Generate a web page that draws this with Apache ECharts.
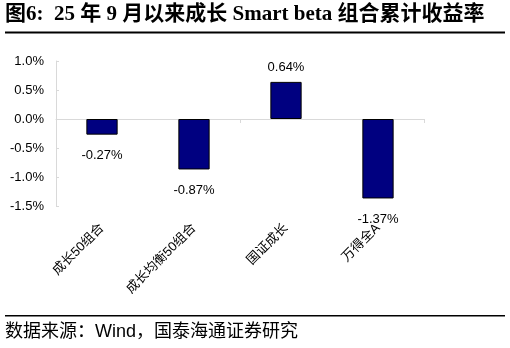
<!DOCTYPE html>
<html><head><meta charset="utf-8">
<script src="https://cdn.jsdelivr.net/npm/echarts@6/dist/echarts.min.js"></script>
<style>html,body{margin:0;padding:0;background:#fff}#c{width:510px;height:348px}</style>
</head><body><div id="c"></div>
<script>
const categories = ['成长50组合', '成长均衡50组合', '国证成长', '万得全A'];
const values = [-0.27, -0.87, 0.64, -1.37];
const yTicks = [-1.5, -1.0, -0.5, 0.0, 0.5, 1.0];
const titleText = '图6:  25 年 9 月以来成长 Smart beta 组合累计收益率';
const sourceText = '数据来源：Wind，国泰海通证券研究';

const chart = echarts.init(document.getElementById('c'), null, {renderer: 'canvas'});
chart.setOption({
  animation: false,
  grid: {left: 56, right: 86, top: 61, bottom: 142, containLabel: false},
  xAxis: [{
    type: 'category', data: categories, position: 'bottom',
    axisLine: {show: false, onZero: false}, axisTick: {show: false},
    axisLabel: {rotate: 45, fontSize: 13, color: '#000', margin: 20,
      fontFamily: 'Liberation Sans, Noto Sans CJK SC'}
  }, {
    type: 'category', data: categories,
    axisLine: {show: true, onZero: true, lineStyle: {color: '#d9d9d9', width: 1}},
    axisTick: {show: true, inside: true, length: 4, alignWithLabel: false, lineStyle: {color: '#d9d9d9'}},
    axisLabel: {show: false}
  }],
  yAxis: {
    type: 'value', min: yTicks[0], max: yTicks[yTicks.length - 1], interval: 0.5,
    axisLine: {show: true, lineStyle: {color: '#d9d9d9'}},
    axisTick: {show: true, inside: true, length: 3, lineStyle: {color: '#d9d9d9'}},
    splitLine: {show: false},
    axisLabel: {fontSize: 13, color: '#000', margin: 12,
      fontFamily: 'Liberation Sans, Arial',
      formatter: v => v.toFixed(1) + '%'}
  },
  series: [{
    type: 'bar', xAxisIndex: 0, barWidth: '34%',
    data: values.map(v => ({value: v, label: {position: v < 0 ? 'bottom' : 'top', distance: v < 0 ? 14 : 8}})),
    itemStyle: {color: '#000080', borderColor: '#000', borderWidth: 1},
    label: {show: true, fontSize: 13, color: '#000', fontFamily: 'Liberation Sans, Arial',
      formatter: p => p.value.toFixed(2) + '%'}
  }],
  graphic: [
    {type: 'text', left: 5, top: 4, style: {text: titleText, fontSize: 21, fontWeight: 'bold',
      fontFamily: 'Liberation Serif, Noto Sans CJK SC', fill: '#000'}},
    {type: 'rect', shape: {x: 5, y: 31.5, width: 500, height: 2}, style: {fill: '#000'}},
    {type: 'rect', shape: {x: 5, y: 315, width: 500, height: 1.5}, style: {fill: '#000'}},
    {type: 'text', left: 5, top: 323, style: {text: sourceText, fontSize: 18,
      fontFamily: 'Liberation Sans, Noto Sans CJK SC', fill: '#000'}}
  ]
});
</script></body></html>
